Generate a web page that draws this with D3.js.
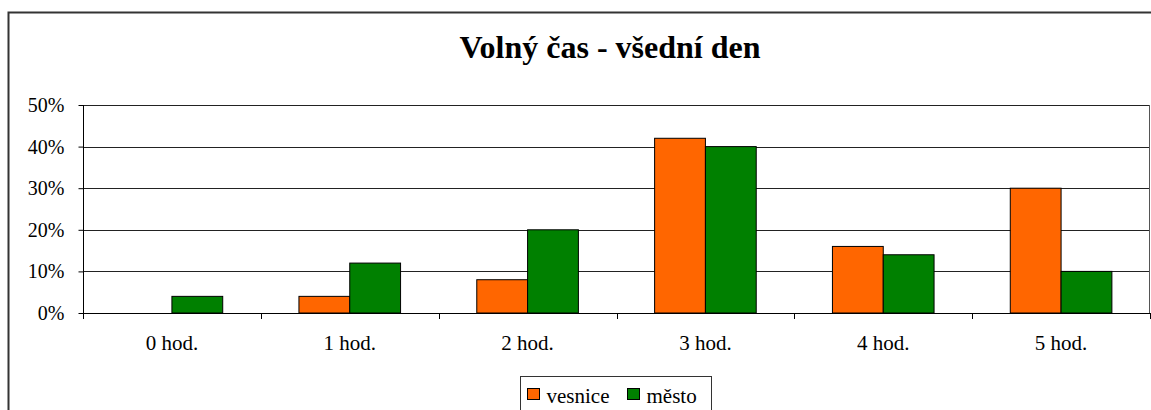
<!DOCTYPE html>
<html>
<head>
<meta charset="utf-8">
<script src="https://cdn.jsdelivr.net/npm/d3@7"></script>
<style>
  body { margin: 0; background: #fff; }
  svg { display: block; font-family: "Liberation Serif", "Times New Roman", serif; }
</style>
</head>
<body>
<div id="chart"></div>
<script>
// data
var categories = ["0 hod.", "1 hod.", "2 hod.", "3 hod.", "4 hod.", "5 hod."]
var vesnice = [0, 0.04, 0.08, 0.42, 0.16, 0.30]
var mesto = [0.04, 0.12, 0.20, 0.40, 0.14, 0.10]
var seriesNames = ["vesnice", "město"]
var seriesColors = ["#ff6600", "#008000"]
var yTicks = [0, 0.1, 0.2, 0.3, 0.4, 0.5]

var width = 1151, height = 410
var plot = {left: 83, right: 1150, top: 105, bottom: 313}

var svg = d3.select("#chart").append("svg")
  .attr("width", width)
  .attr("height", height)

// outer chart frame
svg.append("rect")
  .attr("x", 8.5).attr("y", 12.5)
  .attr("width", 1160).attr("height", 420)
  .attr("fill", "none")
  .attr("stroke", "#333")
  .attr("stroke-width", 2)

svg.append("text")
  .attr("x", 610).attr("y", 58)
  .attr("text-anchor", "middle")
  .style("font-size", "32px")
  .style("font-weight", "bold")
  .text("Volný čas - všední den")

var x = d3.scaleBand()
  .domain(categories)
  .range([plot.left, plot.right])

var y = d3.scaleLinear()
  .domain([0, 0.5])
  .range([plot.bottom, plot.top])

// gridlines
svg.append("g").selectAll("line")
  .data(yTicks.slice(1))
  .enter().append("line")
  .attr("x1", plot.left).attr("x2", plot.right)
  .attr("y1", d => Math.round(y(d)) + 0.5)
  .attr("y2", d => Math.round(y(d)) + 0.5)
  .attr("stroke", "#222")
  .attr("stroke-width", 1)

// plot right border
svg.append("line")
  .attr("x1", plot.right - 0.5).attr("x2", plot.right - 0.5)
  .attr("y1", plot.top).attr("y2", plot.bottom)
  .attr("stroke", "#555")

// bars: Excel gap width 150%
var barW = x.bandwidth() / 3.5
var series = [vesnice, mesto]
series.forEach(function(vals, s) {
  svg.append("g").selectAll("rect")
    .data(categories.map((c, i) => ({c: c, v: vals[i]})).filter(d => d.v > 0))
    .enter().append("rect")
    .attr("x", d => x(d.c) + x.bandwidth() / 2 - barW + s * barW)
    .attr("y", d => y(d.v))
    .attr("width", barW)
    .attr("height", d => y(0) - y(d.v))
    .attr("fill", seriesColors[s])
    .attr("stroke", "#000")
    .attr("stroke-width", 1)
})

// y axis
var yAxis = d3.axisLeft(y)
  .tickValues(yTicks)
  .tickFormat(d3.format(".0%"))
  .tickSize(5)
  .tickPadding(14)
var gy = svg.append("g")
  .attr("transform", "translate(" + (plot.left + 0.5) + ",0)")
  .call(yAxis)
gy.select(".domain").attr("stroke", "#000").attr("d", "M0," + plot.top + "V" + (plot.bottom + 0.5))
gy.selectAll(".tick line").attr("stroke", "#000")
gy.selectAll("text")
  .style("font-family", "Liberation Serif, serif")
  .style("font-size", "20px")
  .attr("fill", "#000")

// x axis
var xAxis = d3.axisBottom(x).tickSize(0).tickPadding(22)
var gx = svg.append("g")
  .attr("transform", "translate(0," + (plot.bottom + 0.5) + ")")
  .call(xAxis)
gx.select(".domain").attr("stroke", "#000").attr("d", "M" + plot.left + ",0H" + plot.right)
gx.selectAll("text")
  .style("font-family", "Liberation Serif, serif")
  .style("font-size", "21px")
  .attr("fill", "#000")
// category separators
svg.append("g").selectAll("line")
  .data(categories.concat(["end"]))
  .enter().append("line")
  .attr("x1", (d, i) => Math.round(plot.left + i * x.bandwidth()) + 0.5)
  .attr("x2", (d, i) => Math.round(plot.left + i * x.bandwidth()) + 0.5)
  .attr("y1", plot.bottom).attr("y2", plot.bottom + 6)
  .attr("stroke", "#000")

// legend
var legend = svg.append("g").attr("transform", "translate(520.5,376.5)")
legend.append("rect")
  .attr("width", 191).attr("height", 40)
  .attr("fill", "#fff")
  .attr("stroke", "#333")
var legendX = [7, 107]
seriesNames.forEach(function(name, i) {
  legend.append("rect")
    .attr("x", legendX[i]).attr("y", 12)
    .attr("width", 12).attr("height", 11)
    .attr("fill", seriesColors[i])
    .attr("stroke", "#000")
  legend.append("text")
    .attr("x", legendX[i] + 19).attr("y", 26)
    .style("font-size", "21px")
    .text(name)
})
</script>
</body>
</html>
